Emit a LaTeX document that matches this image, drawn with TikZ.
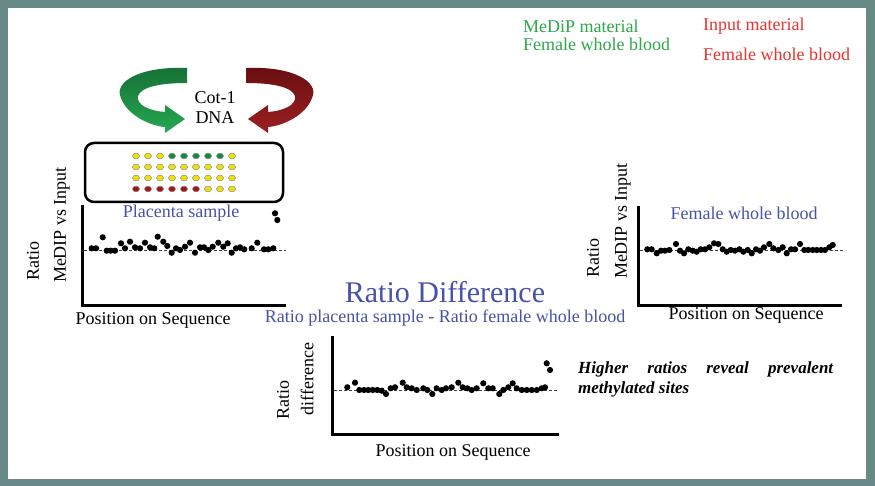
\documentclass[tikz,border=0pt]{standalone}
\usepackage{fontspec}
\setmainfont{Liberation Serif}
\usetikzlibrary{positioning}

\definecolor{framegray}{RGB}{104,138,134}
\definecolor{labelblue}{RGB}{72,82,168}
\definecolor{medipgreen}{RGB}{46,168,74}
\definecolor{inputred}{RGB}{232,52,46}
\definecolor{dotyellow}{RGB}{240,226,0}
\definecolor{dotgreen}{RGB}{22,140,62}
\definecolor{dotred}{RGB}{160,22,28}
\definecolor{arrowgreentop}{RGB}{22,112,54}
\definecolor{arrowgreenbot}{RGB}{38,168,80}
\definecolor{arrowredtop}{RGB}{104,14,16}
\definecolor{arrowredbot}{RGB}{156,32,34}

\begin{document}
\begin{tikzpicture}[x=1pt,y=-1pt,
  axis line/.style={line width=3pt,line cap=rect},
  base line/.style={dash pattern=on 3pt off 2pt,line width=0.7pt,black!75},
  well/.style={draw=black!45,line width=0.5pt},
  chip box/.style={draw,line width=2.5pt,rounded corners=9pt,minimum width=198pt,minimum height=59pt},
  axis label/.style={font=\fontsize{18}{20}\selectfont},
  plot title/.style={text=labelblue,font=\fontsize{18}{20}\selectfont},
  legend/.style={anchor=west,inner sep=0pt,font=\fontsize{18}{20}\selectfont}]

  \useasboundingbox (0,0) rectangle (875,486);
  \fill[framegray] (0,0) rectangle (875,486);
  \fill[white] (8,8) rectangle (866,479);

  % legends
  \node[legend,text=medipgreen] (medip) at (523,26) {MeDiP material};
  \node[legend,text=medipgreen] (medipsrc) at (523,44) {Female whole blood};
  \node[legend,text=inputred] (input) at (703,26) {Input material};
  \node[legend,text=inputred] (inputsrc) at (703,54) {Female whole blood};

  % hybridisation arrows
  \shade[top color=arrowgreentop,bottom color=arrowgreenbot]
    (187,68) .. controls (140,66) and (113,82) .. (121,98)
    .. controls (127,115) and (150,126) .. (165,127) -- (165,133) -- (185,119)
    -- (165,105) -- (165,112) .. controls (150,111) and (136,105) .. (138,96)
    .. controls (141,87) and (160,83) .. (187,83) -- cycle;
  \shade[top color=arrowredtop,bottom color=arrowredbot]
    (246,68) .. controls (293,66) and (320,82) .. (312,98)
    .. controls (306,115) and (283,126) .. (268,127) -- (268,133) -- (248,119)
    -- (268,105) -- (268,112) .. controls (283,111) and (297,105) .. (295,96)
    .. controls (292,87) and (273,83) .. (246,83) -- cycle;
  \node[align=center,font=\fontsize{18}{20}\selectfont] (cot) at (215,108) {Cot-1\\DNA};

  % array
  \node[chip box] (chip) at (184,172.5) {};
  \foreach \clr [count=\i from 0] in {dotyellow,dotyellow,dotyellow,dotgreen,dotgreen,dotgreen,dotgreen,dotgreen,dotyellow}
    \filldraw[well,fill=\clr] (136+12*\i,156) ellipse (3.5pt and 2.9pt);
  \foreach \r in {167,178}
    \foreach \i in {0,...,8}
      \filldraw[well,fill=dotyellow] (136+12*\i,\r) ellipse (3.5pt and 2.9pt);
  \foreach \clr [count=\i from 0] in {dotred,dotred,dotred,dotred,dotred,dotred,dotyellow,dotyellow,dotyellow}
    \filldraw[well,fill=\clr] (136+12*\i,189) ellipse (3.5pt and 2.9pt);

  % placenta plot
  \draw[base line] (84,250) -- (286,250);
  \draw[axis line] (82,207) -- (82,305) -- (284,305);
  \foreach \x/\y in {91.7/248.3,96/248.3,102.7/237.3,106.7/250.7,110.7/250.7,115/250.7,121/243.3,125/248.3,
    130/241.7,135/247.3,140/248.3,145/242.7,150/247.3,154.3/248.3,157.7/236.7,163.3/241.7,167.3/246,
    171.7/252.7,176/248.3,180/250,185/246.7,190/242.7,195/252.7,200/247.3,204/247.3,208.3/250,
    212.7/246.7,218.3/242.7,223.3/246.7,227.7/243.3,231.7/252.7,236/248.3,240/247.3,244.3/249.3,
    251.7/248.3,257.3/242.7,264/249.3,268.3/249.3,273.3/248.3,275/213.3,277.3/220}
    \fill (\x,\y) circle (3.1pt);
  \node[plot title] (ptitle) at (181,213) {Placenta sample};
  \node[axis label] (pxlab) at (153,320) {Position on Sequence};
  \node[axis label,rotate=90] (pylab) at (62,225) {MeDIP vs Input};
  \node[axis label,rotate=90] (pratio) at (33,261) {Ratio};

  % blood plot
  \draw[base line] (640,250.7) -- (843,250.7);
  \draw[axis line] (638,208) -- (638,305) -- (840,305);
  \foreach \x/\y in {647.3/249.3,651.7/249.3,656.7/253.3,661/250.7,665/250.7,669.3/250,676/244,680/250.7,
    684/253.3,688.3/249.3,692.7/250.7,696.7/251.7,700.7/249.3,705/249.3,709.3/247.3,714/243.3,718.3/244,
    722.7/249.3,726.7/251.7,730.7/250,735/250.7,739.3/249.3,743.3/251.7,747.7/250,751.7/253.3,756/249.3,
    760/250.7,764/247.3,769.3/244,773.3/248.3,778.3/250,782.7/247.3,786.7/253.3,791/249.3,795/249.3,
    800/244,804.3/250,808.3/250,812.7/250,816.7/250,821/250,825/250,829.3/247.3,832.7/245}
    \fill (\x,\y) circle (3.1pt);
  \node[plot title] (btitle) at (744,213) {Female whole blood};
  \node[axis label] (bxlab) at (746,315) {Position on Sequence};
  \node[axis label,rotate=90] (bylab) at (623,221) {MeDIP vs Input};
  \node[axis label,rotate=90] (bratio) at (593,258) {Ratio};

  % difference plot
  \node[text=labelblue,font=\fontsize{30}{32}\selectfont] (dtitle) at (445,292) {Ratio Difference};
  \node[plot title] (dsub) at (445,318) {Ratio placenta sample - Ratio female whole blood};
  \draw[base line] (334,390) -- (558,390);
  \draw[axis line] (332,337) -- (332,434) -- (557,434);
  \foreach \x/\y in {347.3/387.3,355/382.7,359.3/390,364/390,368.3/390,372.7/390,377.3/390,381.7/390.7,
    386/394,390.7/388.3,395/387.3,402.7/382.7,406.7/387.3,411.7/388.3,416.7/390,423.3/388.3,427.3/390,
    432.3/394,436.7/388.3,441.7/390,446/388.3,451.7/387.3,458.3/382.7,462.7/387.3,467.3/388.3,471.7/390,
    476.7/388.3,483.3/383.3,488.3/388.3,492.7/388.3,499.3/394,503.3/390,508.3/387.3,512.7/383.3,
    516.7/388.3,521.7/390,526.7/390,531.7/390,536.7/390,541.7/388.3,545/387.3,546.7/363.3,550/370}
    \fill (\x,\y) circle (3.1pt);
  \node[axis label] (dxlab) at (453,452) {Position on Sequence};
  \node[axis label,rotate=90] (dylab) at (307,379) {difference};
  \node[axis label,rotate=90] (dratio) at (283,400) {Ratio};

  \node[anchor=north west,inner sep=0pt,align=left,font=\fontsize{17}{20}\selectfont\bfseries\itshape] (note) at (578,362)
    {\makebox[255pt][s]{Higher ratios reveal prevalent}\\methylated sites};

\end{tikzpicture}
\end{document}
